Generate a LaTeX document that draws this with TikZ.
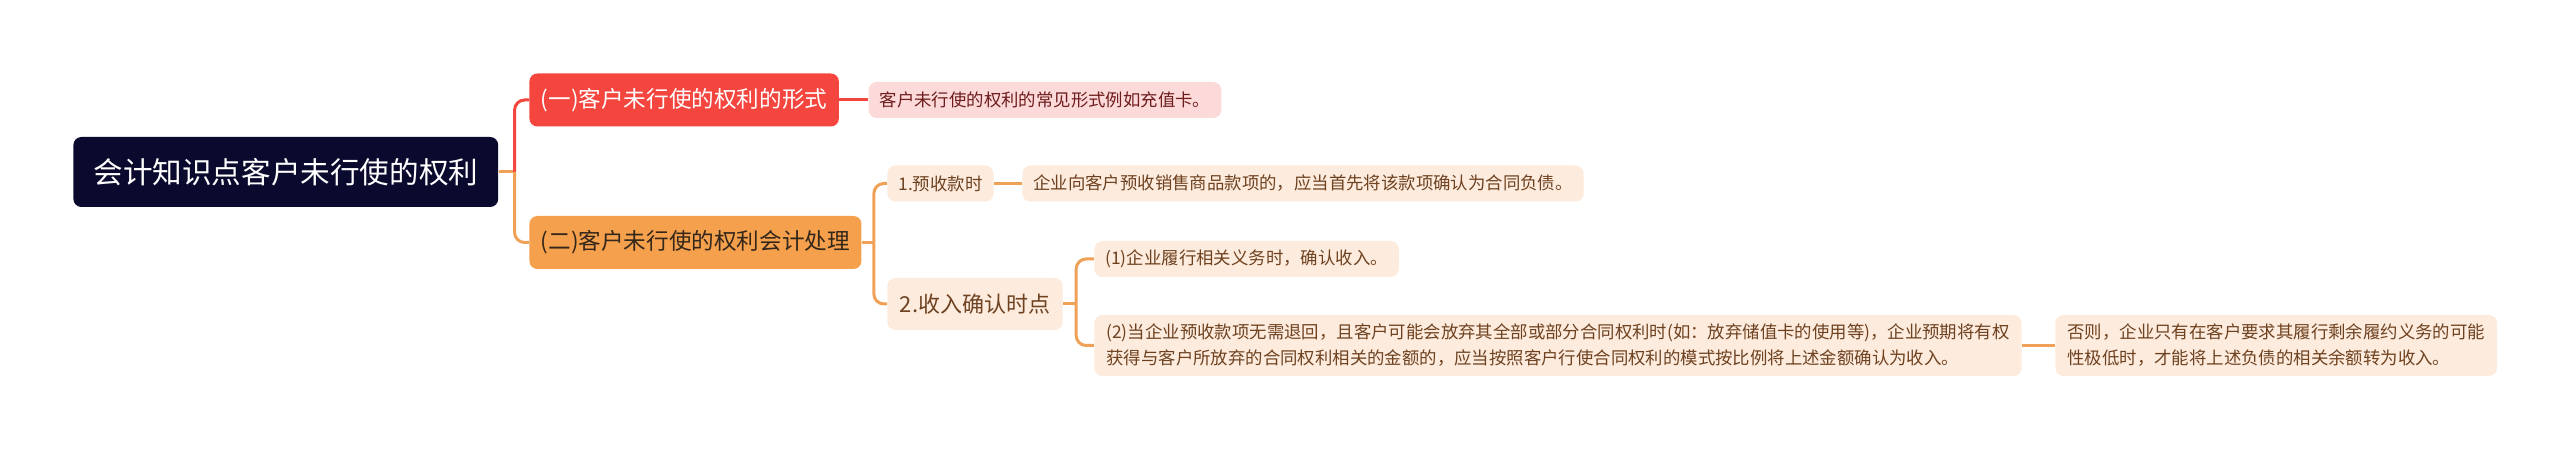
\documentclass[tikz,border=0pt]{standalone}
\usepackage{fontspec}
\setmainfont{Noto Sans CJK SC}
\usepackage{xcolor}
\usepackage{tikz}
\usetikzlibrary{arrows.meta,positioning}
\usetikzlibrary{calc,backgrounds}

\definecolor{rootfill}{HTML}{0A0A2E}
\definecolor{redfill}{HTML}{F4463E}
\definecolor{pinkfill}{HTML}{FDDADA}
\definecolor{pinktext}{HTML}{6E1C1C}
\definecolor{orangefill}{HTML}{F5A04C}
\definecolor{orangeline}{HTML}{EFA257}
\definecolor{peachfill}{HTML}{FDEBDD}
\definecolor{browntext}{HTML}{6E4220}
\definecolor{darktext}{HTML}{33261A}

\begin{document}
\begin{tikzpicture}[
                    x=0.5pt, y=-0.5pt,
                    topic/.style={rectangle, rounded corners=4pt, fill=rootfill, text=white, font=\fontsize{14.8}{18}\selectfont, inner xsep=10pt, minimum height=35pt},
                    branch/.style={rectangle, rounded corners=4pt, inner xsep=5.75pt, minimum height=26.5pt, font=\fontsize{11.3}{14}\selectfont},
                    leaf/.style={rectangle, rounded corners=4pt, align=left, inner xsep=5.5pt, inner ysep=3pt, minimum height=18pt, fill=peachfill, text=browntext, font=\fontsize{8.7}{13}\selectfont},
                    redlink/.style={draw=redfill, line width=1.5pt, rounded corners=5pt},
                    orangelink/.style={draw=orangeline, line width=1.5pt, rounded corners=5pt}
                ]
                    \useasboundingbox (0,0) rectangle (2560,453);

                    % Nodes
                    \node[topic, anchor=west] (Root) at (73,172) {会计知识点客户未行使的权利};
                    \node[branch, fill=redfill, text=white, anchor=west] (FormSub) at (529,100) {(一)客户未行使的权利的形式};
                    \node[leaf, fill=pinkfill, text=pinktext, right=14.5pt of FormSub] (FormNote) {客户未行使的权利的常见形式例如充值卡。};
                    \node[branch, fill=orangefill, text=darktext, anchor=west] (Handle) at (529,242.5) {(二)客户未行使的权利会计处理};
                    \node[leaf, anchor=west] (Prepay) at (887,183.5) {1.预收款时};
                    \node[leaf, right=14pt of Prepay] (PrepayNote) {企业向客户预收销售商品款项的，应当首先将该款项确认为合同负债。};
                    \node[leaf, font=\fontsize{11}{13}\selectfont, inner xsep=6.25pt, minimum height=26pt, anchor=west] (Recog) at (887,304) {2.收入确认时点};
                    \node[leaf, anchor=west] (StepOne) at (1094,259) {(1)企业履行相关义务时，确认收入。};
                    \node[leaf, anchor=west, inner xsep=6pt, minimum height=30.5pt] (StepTwo) at (1094,345.5) {(2)当企业预收款项无需退回，且客户可能会放弃其全部或部分合同权利时(如：放弃储值卡的使用等)，企业预期将有权\\获得与客户所放弃的合同权利相关的金额的，应当按照客户行使合同权利的模式按比例将上述金额确认为收入。};
                    \node[leaf, right=16.5pt of StepTwo, inner xsep=6pt, minimum height=30.5pt] (Otherwise) {否则，企业只有在客户要求其履行剩余履约义务的可能\\性极低时，才能将上述负债的相关余额转为收入。};

                    % Connectors
                    \coordinate (RootFork) at ($(Root.east)+(8pt,0)$);
                    \coordinate (HandleFork) at ($(Handle.east)+(6pt,0)$);
                    \coordinate (RecogFork) at ($(Recog.east)+(6.5pt,0)$);
                    \begin{scope}[on background layer]
                    \draw[orangelink] (Root.east) -- (RootFork);
                    \draw[redlink] (RootFork) |- (FormSub.west);
                    \draw[orangelink] (RootFork) |- (Handle.west);
                    \draw[redlink] (FormSub.east) -- (FormNote.west);
                    \draw[orangelink] (Handle.east) -- (HandleFork);
                    \draw[orangelink] (HandleFork) |- (Prepay.west);
                    \draw[orangelink] (HandleFork) |- (Recog.west);
                    \draw[orangelink] (Prepay.east) -- (PrepayNote.west);
                    \draw[orangelink] (Recog.east) -- (RecogFork);
                    \draw[orangelink] (RecogFork) |- (StepOne.west);
                    \draw[orangelink] (RecogFork) |- (StepTwo.west);
                    \draw[orangelink] (StepTwo.east) -- (Otherwise.west);
                    \end{scope}
                \end{tikzpicture}
\end{document}
